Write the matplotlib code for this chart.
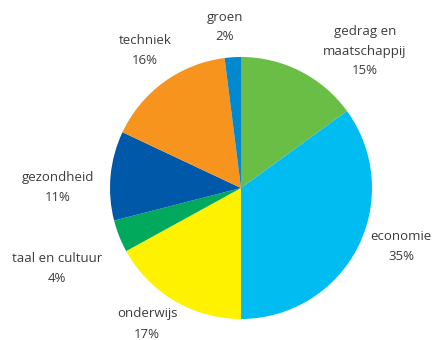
import matplotlib
matplotlib.use("Agg")
import matplotlib.pyplot as plt

# --- data, clockwise from 12 o'clock ---
LABELS = ["gedrag en\nmaatschappij", "economie", "onderwijs", "taal en cultuur",
          "gezondheid", "techniek", "groen"]
SHARES = [15, 35, 17, 4, 11, 16, 2]
COLORS = ["#6abd45", "#00bcf1", "#fff200", "#00a95c", "#0058a8", "#f7941d", "#0089cf"]

# label anchor points in pixels (x, y from top) of the 434x340 canvas
LABEL_POS = [(365, 51), (401, 247), (147, 324), (57, 268), (58, 187), (145, 51), (225, 27)]

W, H = 434, 340
fig = plt.figure(figsize=(W / 100, H / 100), dpi=100)
fig.patch.set_facecolor("white")

cx, cy, r = 241, 188, 131
ax = fig.add_axes([(cx - r) / W, (H - cy - r) / H, 2 * r / W, 2 * r / H])
ax.pie(SHARES, colors=COLORS, startangle=90, counterclock=False, radius=1,
       wedgeprops=dict(linewidth=0))
ax.set_xlim(-1, 1)
ax.set_ylim(-1, 1)
ax.set_aspect("equal")
ax.axis("off")

for (lx, ly), lab, v in zip(LABEL_POS, LABELS, SHARES):
    fig.text(lx / W, 1 - ly / H, f"{lab}\n{v}%", ha="center", va="center",
             fontsize=9.5, color="#3c3c3c", family="Open Sans",
             linespacing=1.7)

fig.savefig("out.png", dpi=100)
